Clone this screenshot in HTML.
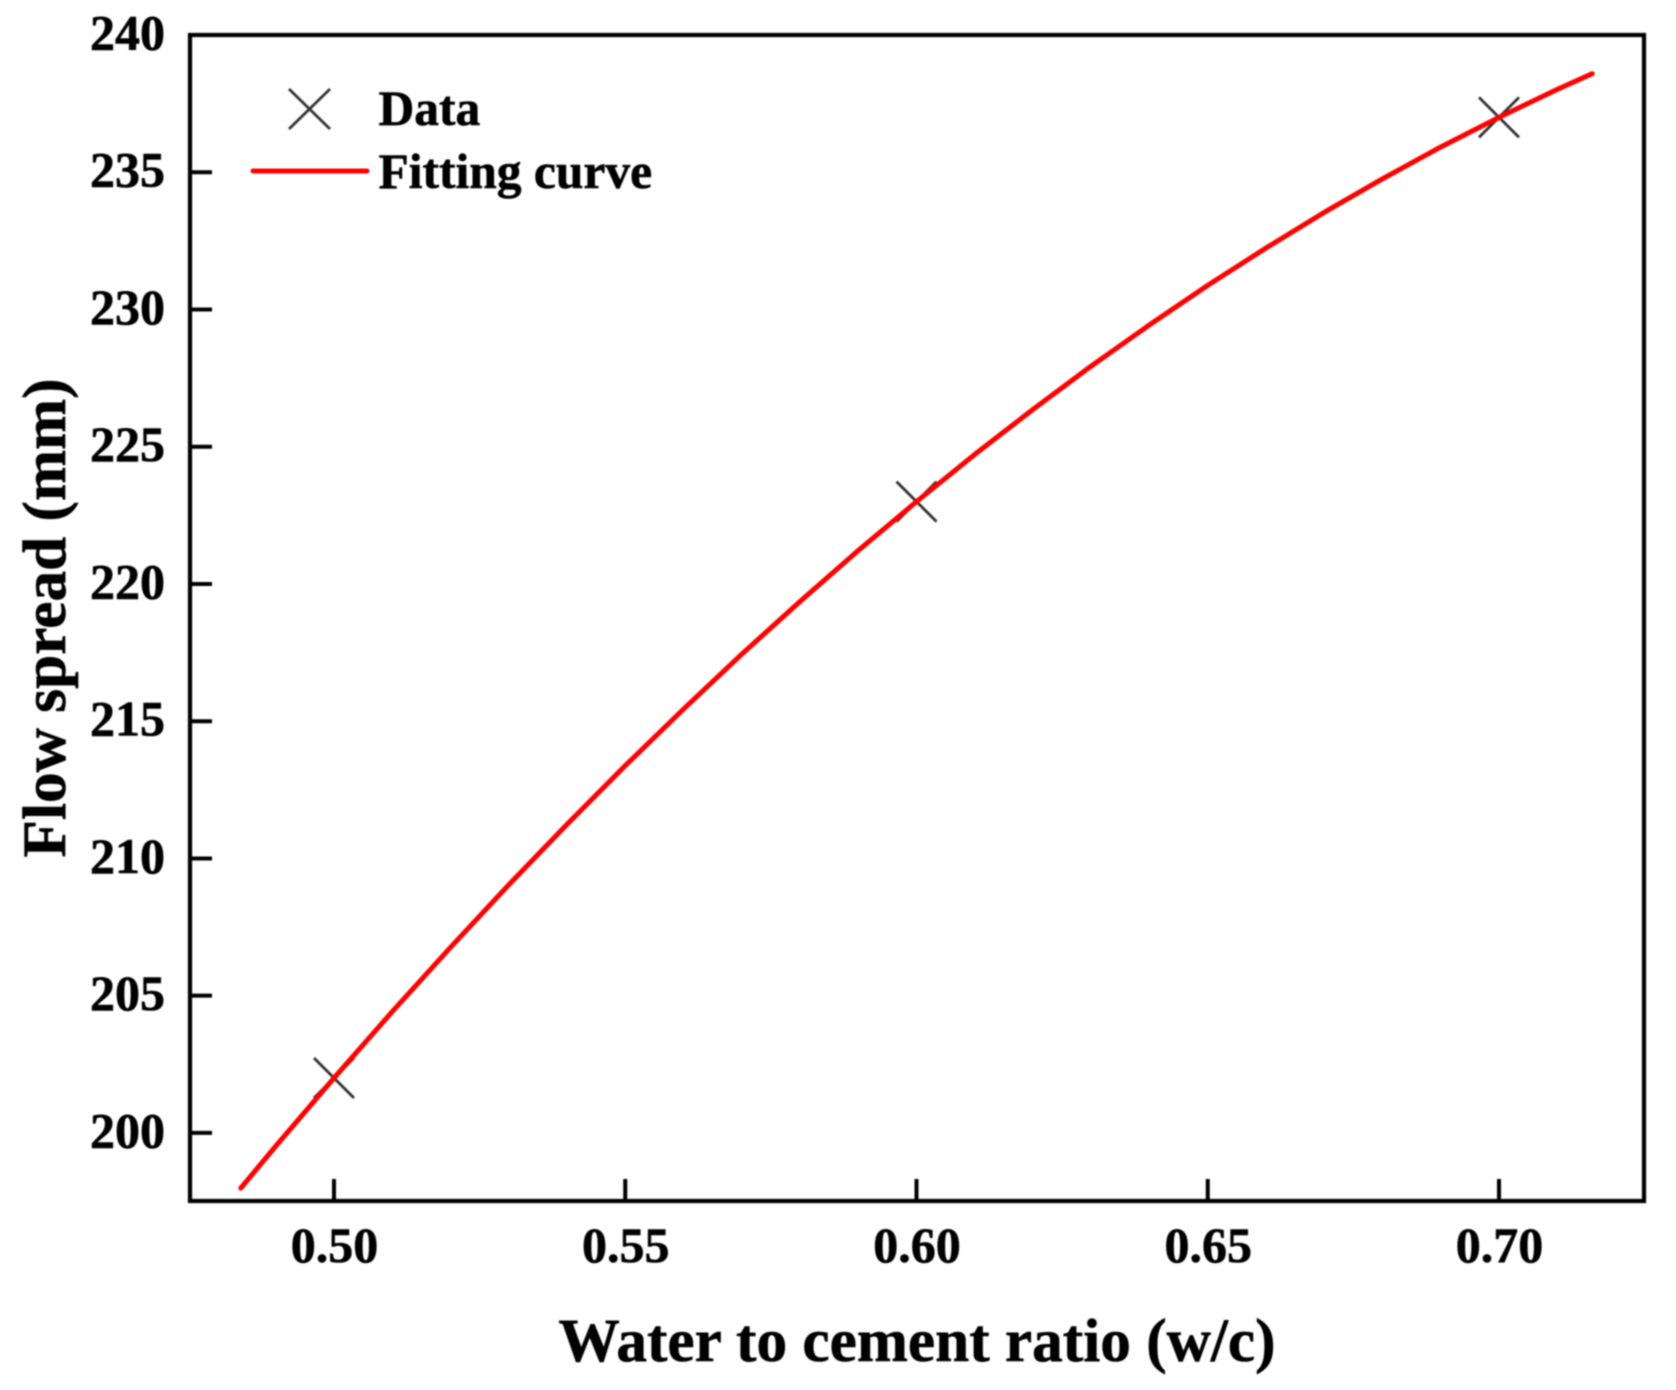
<!DOCTYPE html>
<html lang="en">
<head>
<meta charset="utf-8">
<title>Flow spread vs water to cement ratio</title>
<style>
  html, body { margin: 0; padding: 0; background: #fff; }
  #chart { display: block; width: 1676px; height: 1390px; filter: blur(0.9px); }
  text { font-family: "Liberation Serif", serif; font-weight: bold; fill: #000; stroke: #000; stroke-width: 0.6px; }
  .tick-label { font-size: 50px; }
  .legend-label { font-size: 49.5px; }
  .axis-title { font-size: 61.3px; }
</style>
</head>
<body>
<svg id="chart" xmlns="http://www.w3.org/2000/svg" width="1676" height="1390" viewBox="0 0 1676 1390">
  <rect x="0" y="0" width="1676" height="1390" fill="#fff"/>
  <g id="ticks"></g>
  <g id="tick-labels"></g>
  <g id="markers"></g>
  <polyline id="fit-line" fill="none" stroke="#ff0000" stroke-width="5" stroke-linecap="round" stroke-linejoin="round"/>
  <rect x="190" y="35" width="1454" height="1166" fill="none" stroke="#000" stroke-width="4.2"/>
  <text class="axis-title" x="917" y="1361" text-anchor="middle">Water to cement ratio (w/c)</text>
  <text class="axis-title" x="0" y="0" text-anchor="middle" transform="translate(65 618) rotate(-90)">Flow spread (mm)</text>
  <g>
    <g>
      <line x1="289" y1="89" x2="330" y2="129" stroke="#333" stroke-width="2.8"/>
      <line x1="330" y1="89" x2="289" y2="129" stroke="#333" stroke-width="2.8"/>
      <text class="legend-label" x="378.5" y="125">Data</text>
    </g>
    <g>
      <line x1="253" y1="171" x2="367" y2="171" stroke="#ff0000" stroke-width="5" stroke-linecap="round"/>
      <text class="legend-label" x="378.5" y="188">Fitting curve</text>
    </g>
  </g>
</svg>
<script>
const xTicks = [0.50, 0.55, 0.60, 0.65, 0.70];
const xTickLabels = ["0.50", "0.55", "0.60", "0.65", "0.70"];
const yTicks = [200, 205, 210, 215, 220, 225, 230, 235, 240];
const yTickLabels = ["200", "205", "210", "215", "220", "225", "230", "235", "240"];
const dataX = [0.50, 0.60, 0.70];
const dataY = [202, 223, 237];
const fitX = [0.484, 0.49, 0.50, 0.51, 0.52, 0.53, 0.54, 0.55, 0.56, 0.57, 0.58, 0.59, 0.60, 0.61, 0.62, 0.63, 0.64, 0.65, 0.66, 0.67, 0.68, 0.69, 0.70, 0.71, 0.716];
const fitY = [197.99, 199.52, 202.0, 204.42, 206.76, 209.04, 211.24, 213.38, 215.44, 217.44, 219.36, 221.22, 223.0, 224.72, 226.36, 227.94, 229.44, 230.88, 232.24, 233.54, 234.76, 235.92, 237.0, 238.02, 238.59];

const SVG_NS = "http://www.w3.org/2000/svg";
const plot = { left: 190, right: 1644, top: 35, bottom: 1201 };
const xDomain = [0.47528, 0.72489];
const yDomain = [197.52, 240];
const tickLength = 22;
const markerHalf = 20;

function xScale(v) {
  return plot.left + (v - xDomain[0]) / (xDomain[1] - xDomain[0]) * (plot.right - plot.left);
}
function yScale(v) {
  return plot.bottom - (v - yDomain[0]) / (yDomain[1] - yDomain[0]) * (plot.bottom - plot.top);
}
function makeLine(x1, y1, x2, y2, stroke, width) {
  const el = document.createElementNS(SVG_NS, "line");
  el.setAttribute("x1", x1);
  el.setAttribute("y1", y1);
  el.setAttribute("x2", x2);
  el.setAttribute("y2", y2);
  el.setAttribute("stroke", stroke);
  el.setAttribute("stroke-width", width);
  return el;
}
function makeLabel(x, y, anchor, content) {
  const el = document.createElementNS(SVG_NS, "text");
  el.setAttribute("class", "tick-label");
  el.setAttribute("x", x);
  el.setAttribute("y", y);
  el.setAttribute("text-anchor", anchor);
  el.textContent = content;
  return el;
}

const tickGroup = document.getElementById("ticks");
const labelGroup = document.getElementById("tick-labels");
const markerGroup = document.getElementById("markers");

xTicks.forEach(function (v, i) {
  const px = xScale(v);
  const tick = makeLine(px, plot.bottom, px, plot.bottom - tickLength, "#000", 4);
  
  
  tickGroup.appendChild(tick);
  const label = makeLabel(px + 0.5, 1262, "middle", xTickLabels[i]);
  
  
  labelGroup.appendChild(label);
});

yTicks.forEach(function (v, i) {
  const py = yScale(v);
  const tick = makeLine(plot.left, py, plot.left + tickLength, py, "#000", 4);
  
  
  tickGroup.appendChild(tick);
  const label = makeLabel(165, py + 14.5, "end", yTickLabels[i]);
  
  
  labelGroup.appendChild(label);
});

dataX.forEach(function (v, i) {
  const cx = xScale(v);
  const cy = yScale(dataY[i]);
  const g = document.createElementNS(SVG_NS, "g");
  
  
  const a = makeLine(cx - markerHalf, cy - markerHalf, cx + markerHalf, cy + markerHalf, "#333", 2.8);
  
  
  const b = makeLine(cx + markerHalf, cy - markerHalf, cx - markerHalf, cy + markerHalf, "#333", 2.8);
  
  
  g.appendChild(a);
  g.appendChild(b);
  markerGroup.appendChild(g);
});

document.getElementById("fit-line").setAttribute("points", fitX.map(function (v, i) {
  return xScale(v).toFixed(2) + "," + yScale(fitY[i]).toFixed(2);
}).join(" "));
</script>
</body>
</html>
